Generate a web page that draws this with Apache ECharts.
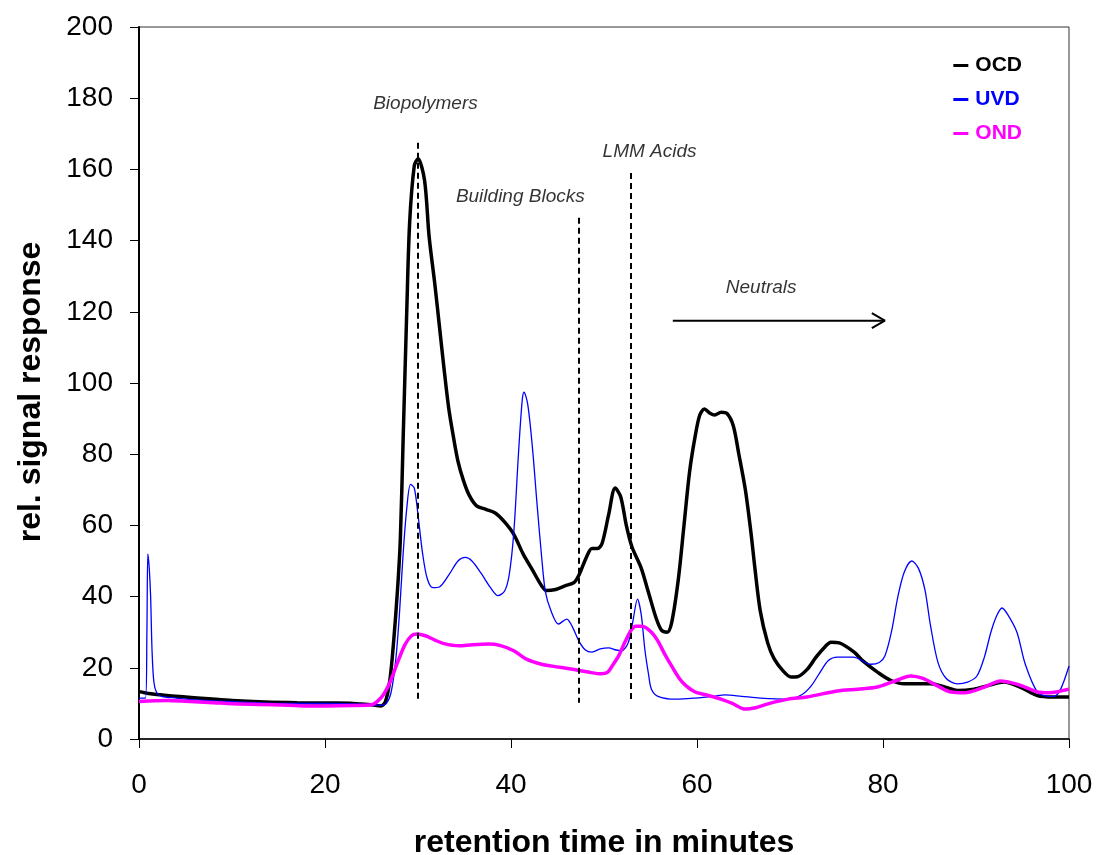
<!DOCTYPE html>
<html>
<head>
<meta charset="utf-8">
<script src="https://cdn.jsdelivr.net/npm/echarts@6/dist/echarts.min.js"></script>
<style>
  html, body { margin: 0; padding: 0; background: #fff; }
  #chart { width: 1099px; height: 855px; }
</style>
</head>
<body>
<div id="chart"></div>
<script>
// retention time (min) / relative signal pairs
const ocd = [
  [0,13.3],[1,12.8],[2,12.5],[3,12.2],[5,11.8],[7.5,11.3],[10,10.8],[13.5,10.4],[17,10.2],[20.7,10.1],
  [23,10],[25,9.6],[26,9.3],[26.5,10.5],[27,17],[27.4,28],[27.8,42],[28.1,56],[28.4,84],[28.8,121],
  [29.1,145],[29.6,161],[30.0,163],[30.7,157],[31.2,141],[31.8,128],[32.3,116],[32.8,104],[33.3,93],
  [33.8,85],[34.3,78],[34.9,72.5],[35.5,68.5],[36.3,65.5],[37.3,64.5],[38.3,63.5],[39.3,61],[40.3,57.5],
  [41.3,52],[42.3,47.5],[43.3,43],[43.8,41.7],[44.8,42],[45.8,43],[46.8,44],[47.3,46],[48.1,51],[48.7,53.5],
  [49.3,53.5],[49.8,55],[50.5,63],[51.2,70.5],[51.8,68],[52.4,60],[53.0,54],[54.0,48],[54.8,41],
  [55.6,34],[56.2,30.5],[56.8,30],[57.3,33],[58.0,45],[58.6,60],[59.2,75],[59.8,85],[60.3,91],
  [60.8,92.7],[61.4,91.5],[61.9,91],[62.6,91.8],[63.2,91.5],[63.9,88],[64.5,80],[65.2,70],[65.8,58],
  [66.2,48.6],[66.8,36],[67.6,27],[68.3,22.5],[69.3,19],[70.1,17.4],[70.8,17.5],[71.9,19.7],[72.8,23],
  [73.8,26],[74.4,27.2],[75.3,27],[76.9,24.4],[77.8,22],[79.4,18.8],[80.8,16.5],[82.3,15.5],[85.1,15.5],
  [86.8,14.5],[88,13.6],[89.8,14],[91.3,15],[93,16],[94.8,14.5],[96.6,12.2],[98.3,11.8],[100,11.8]
];

const uvd = [
  [0,11.5],[0.7,11.5],[0.85,30],[0.95,52],[1.1,48],[1.25,40],[1.4,25],[1.6,16],[1.9,13],[2.4,12],
  [4,11.5],[6,11],[10,10.5],[15,10],[20,10],[24,9.8],[26,9.5],[26.6,10],[27.1,13],[27.6,22],[28,35],
  [28.4,52],[28.8,65],[29.2,71.5],[29.6,70.5],[30,63],[30.5,52],[31,45],[31.6,42.5],[32.3,42.7],
  [33.3,46],[34.3,50],[35.1,51],[35.8,50],[36.8,46.5],[37.8,42.5],[38.6,40.3],[39.3,41.5],[39.8,46],
  [40.3,58],[40.8,80],[41.2,95],[41.4,97.4],[41.8,94],[42.3,82],[42.8,66],[43.3,51],[43.7,41.3],
  [44.3,36],[45.1,32.3],[46,33.7],[46.6,31.5],[47.3,27.5],[48,25],[48.7,24.4],[49.6,25.3],[50.5,25.6],
  [51.3,25],[51.9,24.8],[52.6,27],[53.1,33],[53.6,39.3],[54,35],[54.4,25],[54.8,18],[55.1,14],
  [55.8,12],[57.7,11.2],[59.8,11.5],[61.8,12],[63,12.4],[64.8,12],[66.8,11.5],[69.8,11.2],[71.3,12.5],
  [72.3,15],[73.3,19],[74.1,22],[75.1,23],[76.8,23],[78.7,21],[79.6,21.5],[80.2,23.3],[80.9,30],
  [81.6,40],[82.3,47],[83.1,50],[83.8,48],[84.5,42],[85.1,32],[85.9,21.6],[86.8,17],[88,15.5],
  [89.1,16],[90.1,17.7],[90.9,23],[91.6,30],[92.2,34.5],[92.8,36.8],[93.4,35],[94.4,30],[95.3,21],
  [96.6,13.2],[97.8,12],[98.4,12],[99.1,14],[100,20.5]
];

const ond = [
  [0,10.5],[3,10.8],[5,10.6],[8,10.2],[10,9.9],[13,9.7],[16,9.5],[18,9.3],[20,9.3],[23,9.4],[25,9.6],
  [25.6,10.5],[26.3,12.5],[27,16],[27.8,21.5],[28.6,26.5],[29.3,29],[29.9,29.5],[30.8,29],[31.8,27.8],
  [32.8,26.8],[34.4,26.2],[35.8,26.5],[37.6,26.7],[38.8,26.3],[40.3,24.8],[41.6,22.5],[43.3,21],
  [45.1,20.2],[46.8,19.5],[48.3,18.8],[49.7,18.3],[50.4,18.8],[51,21],[51.6,23.5],[52.3,27.5],
  [52.9,30.5],[53.4,31.7],[54.1,31.7],[55.1,30],[55.8,27.5],[56.5,24],[57.2,20.8],[58.1,17],[58.8,15],
  [59.8,13.2],[60.8,12.5],[61.8,11.8],[62.8,11],[63.8,10],[65.2,8.4],[66.3,8.8],[67.8,10],[69.8,11.2],
  [71.8,11.8],[75.1,13.5],[77.3,14],[79.4,14.6],[81.3,16.3],[83,17.7],[84.3,17],[85.8,15],[87.3,13.2],
  [88.8,13],[90.3,14],[91.8,15.6],[92.6,16.3],[94.3,15.5],[95.8,14],[96.6,13.2],[97.8,13],[98.8,13.3],
  [100,14]
];

// fraction labels and the dashed separators
const annotations = [
  { name: 'Biopolymers', value: [30.8, 178.4] },
  { name: 'Building Blocks', value: [41.0, 152.3] },
  { name: 'LMM Acids', value: [54.9, 164.9] },
  { name: 'Neutrals', value: [66.9, 126.7] }
];
const separators = [
  [[30.0, 167.5], [30.0, 11]],
  [[47.3, 146.4], [47.3, 10.2]],
  [[52.9, 159], [52.9, 10.6]]
];
const arrowShaft = [[57.4, 117.5], [80.2, 117.5]];
const arrowHead = [[78.8, 119.6], [80.2, 117.5], [78.8, 115.4]];

const font = 'Liberation Sans, Arial, sans-serif';

const chart = echarts.init(document.getElementById('chart'));

chart.setOption({
  animation: false,
  backgroundColor: '#fff',
  grid: {
    left: 139, right: 30, top: 27, bottom: 116,
    containLabel: false,
    outerBoundsMode: 'none',
    show: true, borderColor: '#333', borderWidth: 1
  },
  legend: {
    data: [
      { name: 'OCD', textStyle: { color: '#000' } },
      { name: 'UVD', textStyle: { color: '#0000ff' } },
      { name: 'OND', textStyle: { color: '#ff00ff' } }
    ],
    orient: 'vertical',
    right: 72,
    top: 50,
    icon: 'rect',
    itemWidth: 15,
    itemHeight: 3,
    itemGap: 13,
    textStyle: { fontFamily: font, fontWeight: 'bold', fontSize: 21, padding: [0, 0, 0, 2] }
  },
  xAxis: {
    type: 'value',
    min: 0, max: 100, interval: 20,
    name: 'retention time in minutes',
    nameLocation: 'middle',
    nameGap: 88,
    nameTextStyle: { fontFamily: font, fontWeight: 'bold', fontSize: 32, color: '#000' },
    axisLine: { lineStyle: { color: '#000', width: 1.5 } },
    axisTick: { length: 9, lineStyle: { color: '#000' } },
    axisLabel: { fontFamily: font, fontSize: 28, color: '#000', margin: 32 },
    splitLine: { show: false }
  },
  yAxis: {
    type: 'value',
    min: 0, max: 200, interval: 20,
    name: 'rel. signal response',
    nameLocation: 'middle',
    nameGap: 92,
    nameTextStyle: { fontFamily: font, fontWeight: 'bold', fontSize: 32, color: '#000', padding: [0, 18, 0, 0] },
    axisLine: { show: true, lineStyle: { color: '#000', width: 2 } },
    axisTick: { show: true, length: 9, lineStyle: { color: '#000' } },
    axisLabel: { fontFamily: font, fontSize: 28, color: '#000', margin: 26 },
    splitLine: { show: false }
  },
  series: [
    {
      name: 'OCD', type: 'line', data: ocd, symbol: 'none', smooth: 0.3,
      itemStyle: { color: '#000' },
      lineStyle: { color: '#000', width: 3.5 }
    },
    {
      name: 'UVD', type: 'line', data: uvd, symbol: 'none', smooth: 0.3,
      itemStyle: { color: '#0000ff' },
      lineStyle: { color: '#0000ff', width: 1.3 }
    },
    {
      name: 'OND', type: 'line', data: ond, symbol: 'none', smooth: 0.3,
      itemStyle: { color: '#ff00ff' },
      lineStyle: { color: '#ff00ff', width: 3.5 }
    },
    {
      name: 'labels', type: 'scatter', data: annotations, symbolSize: 1,
      itemStyle: { color: 'rgba(0,0,0,0)' },
      silent: true,
      label: {
        show: true, position: 'inside', formatter: '{b}',
        fontFamily: font, fontStyle: 'italic', fontSize: 19, color: '#000'
      },
      markLine: {
        silent: true,
        symbol: 'none',
        label: { show: false },
        lineStyle: { color: '#000', width: 2, type: [6, 4] },
        data: separators.map(s => [{ coord: s[0] }, { coord: s[1] }])
      }
    },
    {
      name: 'arrowShaft', type: 'line', data: arrowShaft, symbol: 'none', silent: true,
      lineStyle: { color: '#000', width: 2 }
    },
    {
      name: 'arrowHead', type: 'line', data: arrowHead, symbol: 'none', silent: true,
      lineStyle: { color: '#000', width: 2 }
    }
  ]
});
</script>
</body>
</html>
